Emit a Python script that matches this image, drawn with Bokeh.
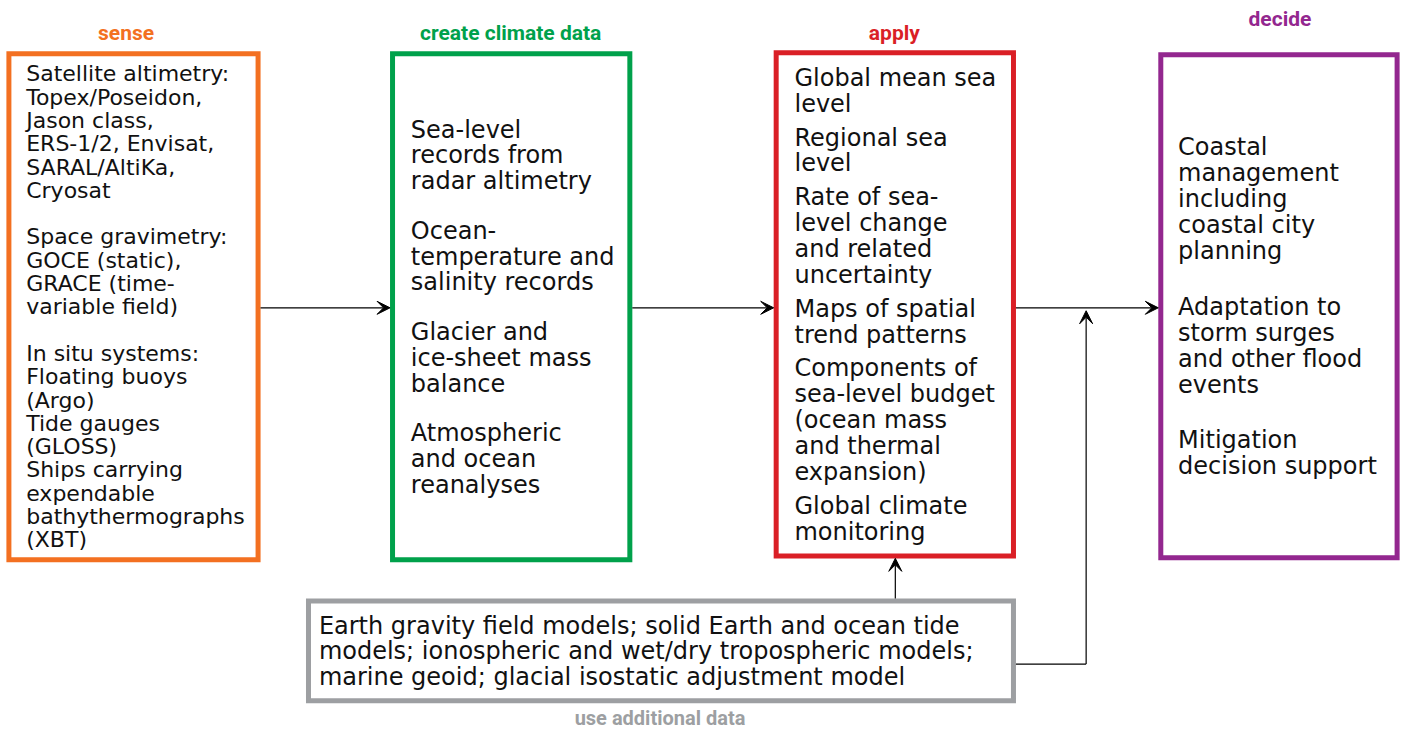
from bokeh.plotting import figure
from bokeh.models import Range1d, Arrow, VeeHead, ColumnDataSource
from bokeh.embed import file_html
from bokeh.resources import INLINE
from bokeh.core.properties import value

# ---------------- content ----------------
stage_titles = ["sense", "create climate data", "apply", "decide"]
stage_colors = ["#F37021", "#00A14B", "#DA1F26", "#93278F"]
extra_title = "use additional data"
extra_color = "#9D9FA2"

sense_groups = [
    ["Satellite altimetry:", "Topex/Poseidon,", "Jason class,", "ERS-1/2, Envisat,",
     "SARAL/AltiKa,", "Cryosat"],
    ["Space gravimetry:", "GOCE (static),", "GRACE (time-", "variable field)"],
    ["In situ systems:", "Floating buoys", "(Argo)", "Tide gauges", "(GLOSS)",
     "Ships carrying", "expendable", "bathythermographs", "(XBT)"],
]
create_groups = [
    ["Sea-level", "records from", "radar altimetry"],
    ["Ocean-", "temperature and", "salinity records"],
    ["Glacier and", "ice-sheet mass", "balance"],
    ["Atmospheric", "and ocean", "reanalyses"],
]
apply_groups = [
    ["Global mean sea", "level"],
    ["Regional sea", "level"],
    ["Rate of sea-", "level change", "and related", "uncertainty"],
    ["Maps of spatial", "trend patterns"],
    ["Components of", "sea-level budget", "(ocean mass", "and thermal", "expansion)"],
    ["Global climate", "monitoring"],
]
decide_groups = [
    ["Coastal", "management", "including", "coastal city", "planning"],
    ["Adaptation to", "storm surges", "and other flood", "events"],
    ["Mitigation", "decision support"],
]
extra_groups = [
    ["Earth gravity field models; solid Earth and ocean tide",
     "models; ionospheric and wet/dry tropospheric models;",
     "marine geoid; glacial isostatic adjustment model"],
]

# ---------------- layout (reference-pixel coordinates) ----------------
# boxes: left, right, top, bottom (stroke centre lines)
box_geom = [
    (8.5, 260.5, 54.5, 571.5),
    (396.5, 636.5, 54.5, 571.5),
    (784.5, 1024.5, 53.5, 567.5),
    (1173.5, 1412.5, 55.5, 569.5),
]
extra_geom = (311.5, 1024.5, 613.5, 715.5)
title_pos = [(127, 33), (516, 33), (904, 33), (1294, 19)]
extra_title_pos = (667, 733)

# text blocks: groups, x, first line y, line step, extra gap between groups, font size
text_blocks = [
    (sense_groups, 26, 75, 23.8, 23.8, "22px"),
    (create_groups, 415, 132, 26.3, 24.5, "24px"),
    (apply_groups, 803, 79, 26.5, 8.0, "24px"),
    (decide_groups, 1191, 150, 26.5, 30.5, "24px"),
    (extra_groups, 322, 639, 26.0, 0.0, "24px"),
]

REF_W, REF_H = 1422, 751
W, H = 1406, 735
p = figure(width=W, height=H, output_backend="svg", toolbar_location=None,
           x_range=Range1d(0, REF_W), y_range=Range1d(REF_H, 0),
           min_border=0, outline_line_color=None, background_fill_color="white",
           border_fill_color="white")
p.axis.visible = False
p.grid.visible = False

# boxes
for (l, r, t, b), c in zip(box_geom, stage_colors):
    p.quad(left=[l], right=[r], top=[t], bottom=[b], fill_color=None,
           line_color=c, line_width=5, line_join="miter")
l, r, t, b = extra_geom
p.quad(left=[l], right=[r], top=[t], bottom=[b], fill_color=None,
       line_color=extra_color, line_width=5, line_join="miter")

# titles
for (tx, ty), s, c in zip(title_pos, stage_titles, stage_colors):
    p.text(x=[tx], y=[ty], text=[s], text_color=c, text_font=value("Roboto"),
           text_font_style="bold", text_font_size="21px", text_align="center",
           text_baseline="middle")
p.text(x=[extra_title_pos[0]], y=[extra_title_pos[1]], text=[extra_title],
       text_color=extra_color, text_font=value("Roboto"), text_font_style="bold",
       text_font_size="20px", text_align="center", text_baseline="middle")

# body texts
for groups, x0, y0, step, gap, fs in text_blocks:
    xs, ys, ts = [], [], []
    idx = 0
    for gi, g in enumerate(groups):
        for line in g:
            xs.append(x0)
            ys.append(y0 + step * idx + gap * gi)
            ts.append(line)
            idx += 1
    src = ColumnDataSource(dict(x=xs, y=ys, t=ts))
    p.text(x="x", y="y", text="t", source=src, text_color="#111111",
           text_font=value("DejaVu Sans"), text_font_size=fs,
           text_align="left", text_baseline="middle")

# arrows
arrow_y = 314
head = dict(size=13, fill_color="black", line_color="black", line_width=1)
p.add_layout(Arrow(end=VeeHead(**head), x_start=263, y_start=arrow_y, x_end=394, y_end=arrow_y,
                   line_width=1.2, line_color="black"))
p.add_layout(Arrow(end=VeeHead(**head), x_start=639, y_start=arrow_y, x_end=782, y_end=arrow_y,
                   line_width=1.2, line_color="black"))
p.add_layout(Arrow(end=VeeHead(**head), x_start=1027, y_start=arrow_y, x_end=1171, y_end=arrow_y,
                   line_width=1.2, line_color="black"))
# from additional data box up to apply
p.add_layout(Arrow(end=VeeHead(**head), x_start=905, y_start=611, x_end=905, y_end=570,
                   line_width=1.2, line_color="black"))
# from additional data box to the decide arrow
p.line(x=[1027, 1098], y=[678, 678], line_color="black", line_width=1.2)
p.add_layout(Arrow(end=VeeHead(**head), x_start=1098, y_start=678, x_end=1098, y_end=317,
                   line_width=1.2, line_color="black"))

open("out.html", "w").write(file_html(p, INLINE))
